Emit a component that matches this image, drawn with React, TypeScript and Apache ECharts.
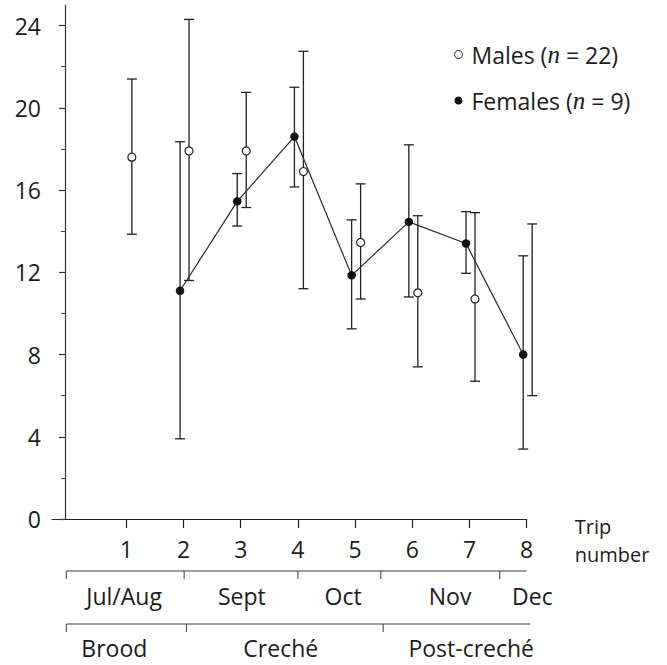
import { useEffect, useRef } from 'react';
import * as echarts from 'echarts';

// Trip numbers and foraging-trip means with error-bar limits
const trips = [1, 2, 3, 4, 5, 6, 7, 8];
const maleMean = [17.6, 17.9, 17.9, 16.9, 13.45, 11.0, 10.7, 10.15];
const maleLow = [13.85, 11.6, 15.15, 11.2, 10.7, 7.4, 6.7, 6.0];
const maleHigh = [21.4, 24.3, 20.75, 22.75, 16.3, 14.75, 14.9, 14.35];

const femaleTrips = [2, 3, 4, 5, 6, 7, 8];
const femaleMean = [11.1, 15.45, 18.6, 11.85, 14.45, 13.4, 8.0];
const femaleLow = [3.9, 14.25, 16.15, 9.25, 10.8, 11.95, 3.4];
const femaleHigh = [18.35, 16.8, 21.0, 14.55, 18.2, 14.95, 12.8];

const yLabelTicks = [0, 4, 8, 12, 16, 20, 24];
const yMinorTicks = [2, 6, 10, 14, 18, 22];

// Calendar brackets under the axis, in trip units
const months = ['Jul/Aug', 'Sept', 'Oct', 'Nov', 'Dec'];
const monthBreaks = [-0.05, 2.01, 4.0, 5.45, 7.53];
const monthEnd = 8.0;
const monthLabelAt = [0.96, 3.02, 4.79, 6.66, 8.1];

const phases = ['Brood', 'Creché', 'Post-creché'];
const phaseBreaks = [-0.05, 2.05, 5.49];
const phaseEnd = 8.06;
const phaseLabelAt = [0.79, 3.7, 7.03];

const axisTitle = ['Trip', 'number'];

const FONT = "'Open Sans', 'Noto Sans', sans-serif";
const INK = '#1c1c1c';
const MALE_SHIFT = 0.096;
const FEMALE_SHIFT = -0.061;

function errorBars(name: string, xs: number[], lo: number[], hi: number[]) {
  return {
    type: 'custom',
    name,
    silent: true,
    z: 1,
    encode: { x: 0, y: [1, 2] },
    data: xs.map((x, i) => [x, lo[i], hi[i]]),
    renderItem: (_params: any, api: any) => {
      const x = api.value(0);
      const a = api.coord([x, api.value(1)]);
      const b = api.coord([x, api.value(2)]);
      const cap = 5;
      const style = { stroke: '#202020', lineWidth: 1.3 };
      return {
        type: 'group',
        children: [
          { type: 'line', shape: { x1: a[0], y1: a[1], x2: b[0], y2: b[1] }, style },
          { type: 'line', shape: { x1: a[0] - cap, y1: a[1], x2: a[0] + cap, y2: a[1] }, style },
          { type: 'line', shape: { x1: b[0] - cap, y1: b[1], x2: b[0] + cap, y2: b[1] }, style },
        ],
      };
    },
  };
}

export default function App() {
  const ref = useRef<HTMLDivElement>(null);

  useEffect(() => {
    if (!ref.current) return;
    const chart = echarts.init(ref.current, null, { renderer: 'svg' });

    const maleX = trips.map((t) => t + MALE_SHIFT);
    const femaleX = femaleTrips.map((t) => t + FEMALE_SHIFT);

    const yAxisBase = {
      type: 'value',
      min: 0,
      max: 25,
      position: 'left',
      offset: -13,
      splitLine: { show: false },
    };

    chart.setOption({
      animation: false,
      grid: { left: 52, right: 140.3, top: 5, bottom: 146, containLabel: false },
      legend: {
        orient: 'vertical',
        left: 449,
        top: 37,
        itemWidth: 8,
        itemHeight: 8,
        itemGap: 21,
        selectedMode: false,
        icon: 'circle',
        data: [
          { name: 'Males', itemStyle: { color: '#fff', borderColor: '#222', borderWidth: 1 } },
          { name: 'Females', itemStyle: { color: '#111' } },
        ],
        formatter: (name: string) =>
          name === 'Males'
            ? '{g| }{t|Males (}{i|n}{t| = 22)}'
            : '{g| }{t|Females (}{i|n}{t| = 9)}',
        textStyle: {
          rich: {
            g: { width: 4, fontSize: 10 },
            t: { fontFamily: FONT, fontSize: 23, color: INK, lineHeight: 28 },
            i: { fontFamily: "'Liberation Serif', 'DejaVu Serif', serif", fontStyle: 'italic', fontSize: 25, color: INK, lineHeight: 28 },
          },
        },
      },
      xAxis: {
        type: 'value',
        min: -0.3,
        max: 8,
        axisLine: { onZero: false, lineStyle: { color: '#222', width: 1.2 } },
        axisTick: { customValues: trips, length: 9, lineStyle: { color: '#222', width: 1.2 } },
        axisLabel: { customValues: trips, margin: 18, fontFamily: FONT, fontSize: 23, color: INK },
        splitLine: { show: false },
      },
      yAxis: [
        {
          ...yAxisBase,
          axisLine: { show: true, onZero: false, lineStyle: { color: '#333', width: 1.2 } },
          axisTick: { customValues: yLabelTicks, length: 6, lineStyle: { color: '#333', width: 1.2 } },
          axisLabel: { customValues: yLabelTicks, margin: 24, fontFamily: FONT, fontSize: 23, color: INK },
        },
        {
          ...yAxisBase,
          axisLine: { show: false, onZero: false },
          axisTick: { customValues: yMinorTicks, length: 4, lineStyle: { color: '#444', width: 1 } },
          axisLabel: { show: false },
        },
      ],
      series: [
        errorBars('Males SE', maleX, maleLow, maleHigh),
        errorBars('Females SE', femaleX, femaleLow, femaleHigh),
        {
          type: 'line',
          name: 'Females',
          z: 3,
          data: femaleX.map((x, i) => [x, femaleMean[i]]),
          symbol: 'circle',
          symbolSize: 8.5,
          itemStyle: { color: '#111' },
          lineStyle: { color: '#2a2a2a', width: 1.2 },
        },
        {
          type: 'scatter',
          name: 'Males',
          z: 4,
          data: maleX.map((x, i) => [x, maleMean[i]]),
          symbol: 'circle',
          symbolSize: 8,
          itemStyle: { color: '#fff', borderColor: '#222', borderWidth: 1.2, opacity: 1 },
        },
      ],
    });

    // Month and breeding-phase brackets placed through the x axis scale
    const px = (v: number) => chart.convertToPixel({ xAxisIndex: 0 }, v) as number;
    const textStyle = { fontFamily: FONT, fontSize: 23, fill: INK, verticalAlign: 'middle' };
    const bracket = (breaks: number[], end: number, y: number, labels: string[], labelAt: number[], ty: number) => {
      const els: any[] = [];
      const lineStyle = { stroke: '#3a3a3a', lineWidth: 1 };
      els.push({ type: 'line', shape: { x1: px(breaks[0]), y1: y, x2: px(end), y2: y }, style: lineStyle });
      breaks.forEach((b) => {
        els.push({ type: 'line', shape: { x1: px(b), y1: y, x2: px(b), y2: y + 8 }, style: lineStyle });
      });
      labels.forEach((l, i) => {
        els.push({ type: 'text', x: px(labelAt[i]), y: ty, style: { ...textStyle, text: l, align: 'center' } });
      });
      return els;
    };

    // Axis title set in two lines just past the axis end
    const titleX = px(8) + 48;
    const title = axisTitle.map((t, i) => ({
      type: 'text',
      x: titleX,
      y: 526 + i * 28,
      style: { ...textStyle, fontSize: 20, text: t, align: 'left' },
    }));

    chart.setOption({
      graphic: [
        ...bracket(monthBreaks, monthEnd, 571, months, monthLabelAt, 596),
        ...bracket(phaseBreaks, phaseEnd, 624, phases, phaseLabelAt, 648),
        ...title,
      ],
    });

    return () => chart.dispose();
  }, []);

  return (
    <div
      ref={ref}
      style={{ position: 'fixed', left: 0, top: 0, width: 667, height: 665, background: '#fff' }}
    />
  );
}
